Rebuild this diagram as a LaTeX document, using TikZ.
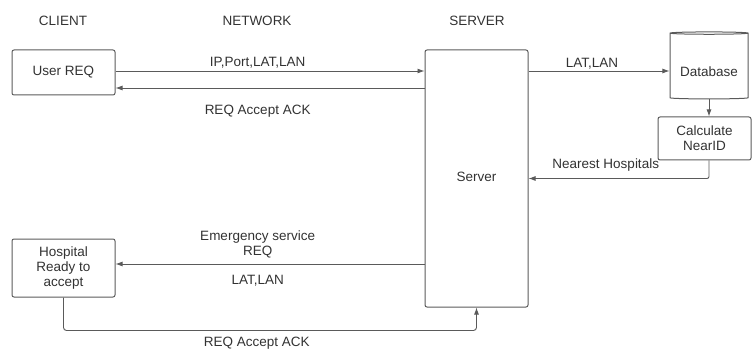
\documentclass[tikz,border=0pt]{standalone}
\usepackage{fontspec}
\setmainfont{Liberation Sans}
\usetikzlibrary{shapes.geometric}
\usetikzlibrary{arrows.meta}
\definecolor{linegray}{RGB}{90,90,90}
\definecolor{textgray}{RGB}{50,50,50}
\tikzstyle{block}=[draw=linegray, line width=1pt, rounded corners=2pt, align=center, text=textgray, font=\fontsize{13.5}{15}\selectfont]
\tikzstyle{flow}=[draw=linegray, line width=0.9pt, -{Latex[length=7pt,width=5pt]}]
\tikzstyle{label}=[text=textgray, font=\fontsize{13.5}{15}\selectfont, align=center]

\begin{document}
\begin{tikzpicture}[x=1pt, y=-1pt]
      \useasboundingbox (0,0) rectangle (753,350);
      \node[label] (client) at (63,21) {CLIENT};
      \node[label] (network) at (257,21) {NETWORK};
      \node[label] (serverhead) at (477,21) {SERVER};

      \node[block, minimum width=103pt, minimum height=45pt] (user) at (63.5,72.5) {User REQ};
      \node[block, minimum width=103pt, minimum height=257pt] (server) at (476.5,178.5) {};
      \node[label] (servertext) at (476.5,177) {Server};
      \node[draw=linegray, line width=1pt, cylinder, shape border rotate=90, aspect=0.35,
        minimum width=78pt, minimum height=67pt] (db) at (709,66.5) {};
      \node[label] (dbtext) at (709,72) {Database};
      \node[block, minimum width=93pt, minimum height=43pt] (calc) at (704.5,138.5) {Calculate\\NearID};
      \node[block, minimum width=103pt, minimum height=58pt] (hosp) at (63.5,268) {Hospital\\Ready to\\accept};

      \draw[flow] ([yshift=1.5pt]user.east)
        to node[label, pos=0.46, yshift=8pt] {IP,Port,LAT,LAN} ([yshift=1.5pt]user.east -| server.west);
      \draw[flow] ([yshift=-15.5pt]user.east -| server.west)
        to node[label, pos=0.54, yshift=-23pt] {REQ Accept ACK} ([yshift=-15.5pt]user.east);
      \draw[flow] ([yshift=1.5pt]user.east -| server.east)
        to node[label, pos=0.45, yshift=7pt] {LAT,LAN} ([yshift=1.5pt]user.east -| db.west);
      \draw[flow] (db.south) -- (db.south |- calc.north);
      \draw[flow, rounded corners=2pt] (db.south |- calc.south) |- (server.east)
        node[label, pos=0.786, yshift=13pt] {Nearest Hospitals};
      \draw[flow] ([yshift=4pt]hosp.east -| server.west)
        to node[label, pos=0.54, yshift=19.5pt] {Emergency service\\REQ}
        node[label, pos=0.54, yshift=-17pt] {LAT,LAN} ([yshift=4pt]hosp.east);
      \draw[flow, rounded corners=3pt] (hosp.south) -- ++(0,33) -| (server.south)
        node[label, pos=0.234, yshift=-13pt] {REQ Accept ACK};
    \end{tikzpicture}
\end{document}
